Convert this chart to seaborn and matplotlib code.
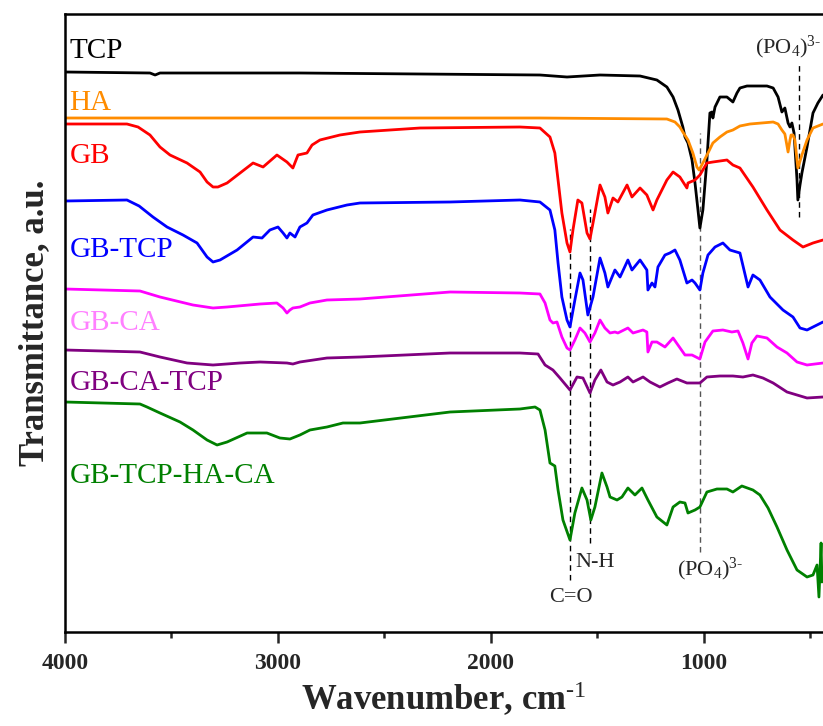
import numpy as np
import pandas as pd
import seaborn as sns
import matplotlib.pyplot as plt
from matplotlib.ticker import FixedLocator

# FTIR spectra, wavenumber (cm-1) vs. stacked transmittance (a.u.)
tcp_wn = [4000, 3601, 3577, 3554, 2897, 1770, 1643, 1488, 1300, 1221, 1174, 1145, 1122, 1099,
          1089, 1075, 1056, 1042, 1028, 1019, 1005, 986, 972, 962, 958, 948, 925, 892, 864, 845,
          831, 798, 704, 675, 652, 634, 620, 605, 596, 587, 577, 563, 559, 549, 540, 516, 488,
          465, 441]
tcp_t = [560, 559, 557, 559, 559, 557, 555, 557, 556, 552, 545, 535, 522, 505, 495, 489, 472,
         449, 422, 404, 422, 472, 519, 520, 514, 525, 535, 535, 530, 539, 544, 546, 546, 544,
         535, 520, 524, 509, 505, 509, 499, 452, 432, 447, 459, 485, 519, 529, 537]

ha_wn = [4000, 2897, 1770, 1174, 1136, 1113, 1099, 1075, 1052, 1033, 1023, 1005, 981, 958,
         925, 892, 864, 831, 784, 675, 652, 634, 620, 605, 596, 591, 582, 573, 559, 540, 516,
         488, 441]
ha_t = [514, 514, 514, 513, 510, 505, 500, 492, 479, 465, 462, 469, 479, 489, 495, 500, 502,
        506, 508, 510, 508, 502, 498, 480, 492, 497, 497, 492, 464, 477, 492, 504, 508]

gb_wn = [4000, 3709, 3657, 3601, 3554, 3507, 3427, 3366, 3333, 3305, 3282, 3239, 3178, 3117,
         3070, 3005, 2958, 2930, 2906, 2864, 2840, 2803, 2709, 2615, 2333, 1864, 1770, 1723,
         1700, 1685, 1667, 1643, 1629, 1615, 1592, 1573, 1549, 1535, 1512, 1488, 1465, 1451,
         1427, 1404, 1361, 1338, 1300, 1268, 1239, 1221, 1174, 1145, 1113, 1080, 1075, 1042,
         1019, 986, 958, 892, 864, 831, 770, 704, 643, 582, 535, 488, 441]
gb_t = [508, 508, 505, 497, 485, 477, 469, 460, 450, 445, 445, 449, 459, 469, 465, 477, 470,
        464, 477, 479, 487, 492, 497, 500, 504, 505, 504, 495, 479, 452, 419, 389, 380, 402,
        432, 429, 399, 393, 419, 447, 435, 419, 434, 430, 447, 435, 444, 437, 422, 432, 452,
        460, 455, 444, 449, 452, 457, 469, 470, 472, 467, 464, 445, 422, 402, 392, 385, 389,
        392]

gbtcp_wn = [4000, 3709, 3652, 3587, 3521, 3446, 3380, 3333, 3305, 3272, 3192, 3117, 3075,
            3038, 3000, 2976, 2958, 2944, 2920, 2897, 2864, 2836, 2770, 2676, 2615, 2192,
            1864, 1770, 1723, 1700, 1685, 1667, 1643, 1629, 1606, 1582, 1568, 1545, 1521,
            1488, 1465, 1451, 1418, 1394, 1357, 1338, 1300, 1268, 1263, 1244, 1230, 1216,
            1183, 1160, 1136, 1113, 1080, 1056, 1042, 1019, 1005, 981, 948, 911, 878, 831,
            793, 770, 737, 690, 629, 582, 549, 516, 488, 441]
gbtcp_t = [431, 432, 426, 415, 405, 397, 389, 375, 370, 372, 382, 395, 394, 402, 405, 399,
           394, 399, 395, 405, 409, 417, 422, 427, 429, 430, 432, 430, 422, 402, 369, 335,
           312, 305, 332, 359, 352, 317, 335, 374, 359, 345, 362, 355, 372, 362, 372, 362,
           342, 349, 345, 365, 377, 379, 382, 372, 349, 352, 349, 342, 359, 377, 385, 389,
           382, 379, 345, 357, 352, 335, 322, 315, 304, 302, 305, 310]

gbca_wn = [4000, 3648, 3554, 3399, 3305, 3239, 3084, 3005, 2976, 2958, 2944, 2930, 2897,
           2850, 2770, 2615, 2192, 1864, 1770, 1746, 1723, 1709, 1690, 1667, 1643, 1629,
           1606, 1582, 1559, 1535, 1512, 1488, 1465, 1441, 1418, 1404, 1357, 1333, 1286,
           1268, 1263, 1244, 1221, 1183, 1145, 1122, 1089, 1056, 1019, 995, 958, 911, 869,
           840, 817, 793, 775, 751, 704, 657, 610, 563, 516, 441]
gbca_t = [343, 341, 335, 327, 324, 325, 328, 329, 324, 319, 322, 324, 325, 329, 332, 333,
          340, 339, 338, 329, 312, 309, 310, 295, 284, 282, 292, 304, 299, 290, 299, 312,
          304, 299, 300, 299, 304, 299, 302, 300, 280, 290, 290, 285, 294, 287, 277, 277,
          273, 290, 301, 302, 300, 301, 289, 273, 289, 296, 294, 285, 279, 270, 267, 269]

gbcatcp_wn = [4000, 3648, 3554, 3427, 3305, 3178, 3084, 2958, 2930, 2897, 2770, 2615, 2192,
              1864, 1779, 1746, 1709, 1676, 1629, 1596, 1568, 1535, 1512, 1484, 1455, 1427,
              1394, 1357, 1333, 1286, 1253, 1207, 1169, 1127, 1080, 1019, 986, 925, 864, 817,
              770, 723, 675, 610, 563, 516, 441]
gbcatcp_t = [282, 280, 275, 269, 267, 269, 270, 269, 268, 270, 274, 275, 279, 279, 278, 267,
             262, 254, 242, 255, 254, 239, 252, 262, 250, 247, 250, 255, 250, 255, 250, 245,
             249, 253, 249, 249, 255, 256, 256, 255, 257, 254, 249, 240, 237, 234, 235]

mix_wn = [4000, 3648, 3615, 3554, 3460, 3399, 3333, 3286, 3239, 3145, 3052, 2991, 2944,
          2897, 2850, 2770, 2695, 2615, 2192, 1864, 1793, 1770, 1746, 1723, 1700, 1685, 1662,
          1629, 1606, 1573, 1549, 1531, 1512, 1479, 1455, 1441, 1408, 1385, 1357, 1324, 1291,
          1263, 1221, 1174, 1145, 1113, 1089, 1075, 1042, 1019, 986, 939, 892, 864, 822, 770,
          737, 699, 657, 610, 563, 516, 488, 469, 460, 450, 446, 441]
mix_t = [230, 228, 225, 219, 210, 202, 192, 187, 190, 199, 199, 194, 193, 197, 202, 205, 209,
         209, 220, 223, 225, 222, 202, 169, 166, 142, 112, 92, 119, 144, 132, 112, 125, 159,
         145, 135, 132, 135, 144, 137, 144, 132, 115, 107, 125, 130, 129, 119, 122, 125, 140,
         143, 143, 140, 146, 142, 137, 124, 105, 82, 62, 55, 57, 67, 35, 89, 50, 60]

series_names = ["TCP", "HA", "GB", "GB-TCP", "GB-CA", "GB-CA-TCP", "GB-TCP-HA-CA"]
line_colors = ["#000000", "#FF8C00", "#FF0000", "#0000FF", "#FF00FF", "#800080", "#008000"]
label_colors = ["#000000", "#FF8C00", "#FF0000", "#0000FF", "#FF80FF", "#800080", "#008000"]
label_t = [574, 522, 469, 375, 302, 242, 149]

band_wn = [1629, 1535, 1019, 555]
band_lo = [52, 89, 80, 415]
band_hi = [403, 423, 499, 569]

frames = []
for name, wn, t in zip(series_names,
                       [tcp_wn, ha_wn, gb_wn, gbtcp_wn, gbca_wn, gbcatcp_wn, mix_wn],
                       [tcp_t, ha_t, gb_t, gbtcp_t, gbca_t, gbcatcp_t, mix_t]):
    frames.append(pd.DataFrame({"wn": wn, "t": t, "sample": name}))
df = pd.concat(frames, ignore_index=True)

sns.set_theme(style="ticks")
plt.rcParams["font.family"] = ["Liberation Serif", "DejaVu Serif"]
plt.rcParams["mathtext.fontset"] = "custom"
plt.rcParams["mathtext.rm"] = "Liberation Serif"
plt.rcParams["mathtext.bf"] = "Liberation Serif:bold"
plt.rcParams["mathtext.default"] = "regular"

fig = plt.figure(figsize=(8.23, 7.26), dpi=100)
ax = fig.add_axes([65 / 823, 1 - 632 / 726, (823 - 65) / 823, (632 - 14) / 726])

# marker lines for the characteristic bands
band_colors = ["#000000", "#000000", "#555555", "#000000"]
for w, lo, hi, c in zip(band_wn, band_lo, band_hi, band_colors):
    ax.plot([w, w], [lo, hi], ls=(0, (4, 3)), color=c, lw=1.0, zorder=1)

sns.lineplot(data=df, x="wn", y="t", hue="sample", hue_order=series_names,
             palette=dict(zip(series_names, line_colors)), estimator=None,
             sort=True, lw=2.0, legend=False, ax=ax, zorder=2)

for name, c, t in zip(series_names, label_colors, label_t):
    ax.text(3978, t, name, color=c, fontsize=21, va="baseline", ha="left")

ax.text(1625, 30, "C=O", fontsize=16, ha="center", va="baseline")
ax.text(1606, 65, "N-H", fontsize=16, ha="left", va="baseline")
ax.text(1127, 57, "(PO$_4$)$^{\\text{3-}}$", fontsize=16, ha="left", va="baseline")
ax.text(760, 579, "(PO$_4$)$^{\\text{3-}}$", fontsize=16, ha="left", va="baseline",
        clip_on=False)

ax.set_xlim(4000, 441)
ax.set_ylim(0, 618)
ax.xaxis.set_major_locator(FixedLocator([4000, 3000, 2000, 1000]))
ax.xaxis.set_minor_locator(FixedLocator([3500, 2500, 1500, 500]))
ax.set_yticks([])
ax.tick_params(axis="x", which="major", direction="out", length=8, width=1.8, pad=7,
               labelsize=17)
ax.tick_params(axis="x", which="minor", direction="out", length=4.5, width=1.8)
for lab in ax.get_xticklabels():
    lab.set_fontweight("bold")

for side in ["left", "top", "bottom"]:
    ax.spines[side].set_linewidth(1.8)
    ax.spines[side].set_color("black")
ax.spines["right"].set_visible(False)

ax.set_xlabel("Wavenumber, cm$^{\\text{-1}}$", fontsize=25, fontweight="bold", labelpad=4)
ax.set_ylabel("Transmittance, a.u.", fontsize=25, fontweight="bold", labelpad=10)

fig.savefig("out.png", dpi=100)
